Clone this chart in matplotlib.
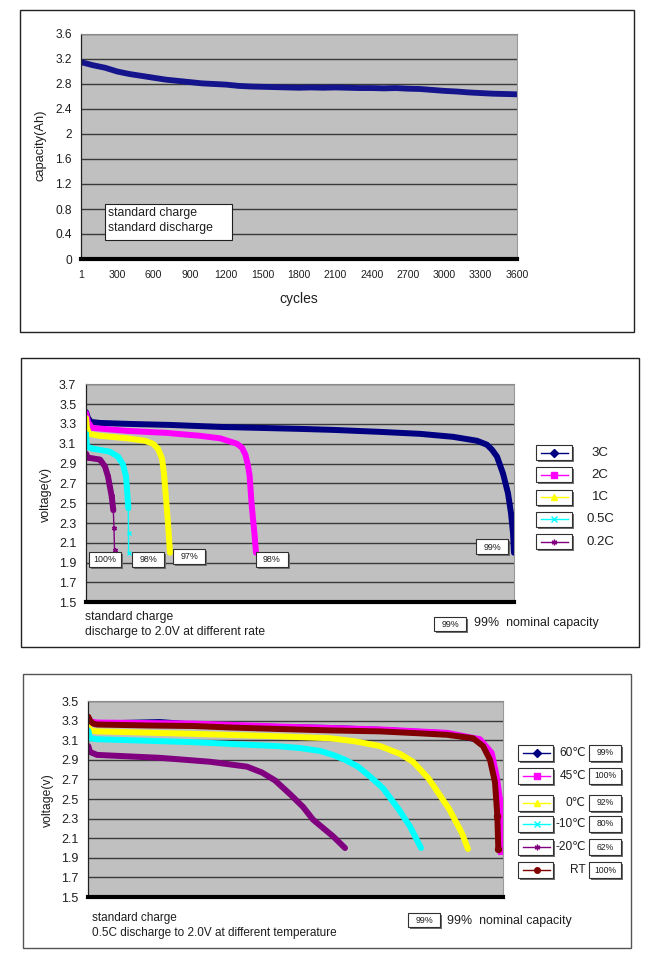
import matplotlib
matplotlib.use('Agg')
import numpy as np
import matplotlib.pyplot as plt
from matplotlib.patches import Rectangle

# ---------------- data ----------------
# panel 1: cycle life
cycles = [1, 100, 200, 300, 400, 500, 600, 700, 800, 900, 1000, 1100, 1200, 1300,
          1400, 1500, 1600, 1700, 1800, 1900, 2000, 2100, 2200, 2300, 2400, 2500,
          2600, 2700, 2800, 2900, 3000, 3100, 3200, 3300, 3400, 3500, 3600]
capacity = [3.15, 3.10, 3.06, 3.00, 2.96, 2.93, 2.90, 2.87, 2.85, 2.83, 2.81, 2.80,
            2.79, 2.77, 2.76, 2.755, 2.75, 2.745, 2.74, 2.745, 2.74, 2.745, 2.74,
            2.735, 2.735, 2.73, 2.735, 2.725, 2.72, 2.705, 2.69, 2.68, 2.665, 2.655,
            2.645, 2.64, 2.635]
cap_yticks = [0, 0.4, 0.8, 1.2, 1.6, 2.0, 2.4, 2.8, 3.2, 3.6]
cap_ylabels = ['0', '0.4', '0.8', '1.2', '1.6', '2', '2.4', '2.8', '3.2', '3.6']
cyc_xticks = [1, 300, 600, 900, 1200, 1500, 1800, 2100, 2400, 2700, 3000, 3300, 3600]

# panel 2: discharge at different rates (x = % of plot span)
rate_names = ['3C', '2C', '1C', '0.5C', '0.2C']
rate_pct = ['99%', '98%', '97%', '98%', '100%']
x_3c = [0, 0.47, 1.17, 3.27, 10.28, 19.63, 31.31, 40.65, 50.0, 57.71, 68.69, 78.04,
        85.75, 91.36, 93.69, 94.86, 96.03, 97.43, 98.6, 99.3, 99.77, 100]
v_3c = [3.42, 3.36, 3.32, 3.31, 3.30, 3.29, 3.27, 3.26, 3.25, 3.24, 3.22, 3.20,
        3.17, 3.13, 3.09, 3.04, 2.97, 2.80, 2.60, 2.40, 2.20, 2.00]
x_2c = [0, 0.47, 1.4, 9.58, 18.69, 26.64, 31.31, 35.28, 36.45, 37.24, 37.85, 38.22,
        38.71, 39.39, 39.72]
v_2c = [3.41, 3.32, 3.26, 3.23, 3.21, 3.18, 3.155, 3.10, 3.06, 2.99, 2.88, 2.78,
        2.48, 2.18, 2.00]
x_1c = [0, 0.23, 0.7, 3.27, 9.58, 13.79, 15.65, 16.82, 17.76, 18.22, 18.69, 19.16, 19.63]
v_1c = [3.36, 3.26, 3.20, 3.18, 3.155, 3.13, 3.10, 3.05, 2.95, 2.80, 2.55, 2.30, 2.00]
x_05c = [0, 0.23, 1.64, 5.61, 7.48, 8.64, 9.35, 9.65, 9.88, 9.93, 9.95]
v_05c = [3.20, 3.07, 3.05, 3.02, 2.97, 2.89, 2.77, 2.60, 2.45, 2.20, 2.00]
x_02c = [0, 0.47, 3.27, 4.44, 5.14, 6.0, 6.38, 6.54, 6.66]
v_02c = [3.00, 2.96, 2.94, 2.87, 2.77, 2.57, 2.43, 2.25, 2.03]
rate_yticks = [1.5, 1.7, 1.9, 2.1, 2.3, 2.5, 2.7, 2.9, 3.1, 3.3, 3.5, 3.7]

# panel 3: 0.5C discharge at different temperatures
temp_names = ['60\u2103', '45\u2103', '0\u2103', '-10\u2103', '-20\u2103', 'RT']
temp_pct = ['99%', '100%', '92%', '80%', '62%', '100%']
x_60 = [0, 0.65, 2.10, 17.29, 25.26, 45.5, 58.28, 70.34, 86.5, 94.45, 96.87, 98.07,
        98.79, 99.04, 99.16]
v_60 = [3.33, 3.28, 3.27, 3.285, 3.26, 3.235, 3.225, 3.205, 3.17, 3.10, 2.95, 2.75,
        2.45, 2.15, 2.00]
x_45 = [0, 0.65, 2.10, 25.26, 45.5, 70.34, 86.5, 94.45, 97.28, 98.48, 99.28, 99.45, 99.52]
v_45 = [3.33, 3.29, 3.28, 3.27, 3.24, 3.21, 3.175, 3.11, 2.97, 2.73, 2.49, 2.20, 1.97]
x_0 = [0, 0.41, 2.10, 25.26, 45.5, 58.28, 64.07, 70.34, 75.17, 78.3, 82.04, 86.98,
       90.11, 91.56]
v_0 = [3.27, 3.20, 3.19, 3.165, 3.14, 3.12, 3.09, 3.04, 2.96, 2.88, 2.71, 2.40, 2.15, 1.99]
x_m10 = [0, 0.41, 2.10, 25.26, 45.5, 51.05, 55.87, 59.0, 61.9, 65.03, 67.93, 71.06,
         74.92, 77.57, 80.23]
v_m10 = [3.20, 3.12, 3.11, 3.08, 3.04, 3.02, 2.99, 2.95, 2.90, 2.83, 2.73, 2.61, 2.39,
         2.22, 2.00]
x_m20 = [0, 0.41, 2.10, 17.29, 29.35, 38.27, 41.89, 45.02, 48.63, 51.77, 54.18, 59.0, 61.9]
v_m20 = [3.04, 2.98, 2.95, 2.92, 2.88, 2.83, 2.77, 2.69, 2.55, 2.42, 2.29, 2.12, 2.00]
x_rt = [0, 0.41, 1.13, 2.10, 14.88, 25.26, 34.17, 45.5, 58.28, 70.34, 79.99, 86.5,
        92.77, 95.18, 96.87, 98.07, 98.63, 98.87]
v_rt = [3.34, 3.30, 3.27, 3.26, 3.25, 3.245, 3.23, 3.215, 3.20, 3.19, 3.17, 3.155,
        3.12, 3.04, 2.90, 2.67, 2.33, 1.99]
temp_yticks = [1.5, 1.7, 1.9, 2.1, 2.3, 2.5, 2.7, 2.9, 3.1, 3.3, 3.5]

# ---------------- style ----------------
plt.rcParams['font.family'] = ['Liberation Sans', 'DejaVu Sans']

NAVY, MAG, YEL, CYA, PUR, DRED = '#000080', '#ff00ff', '#ffff00', '#00ffff', '#800080', '#800000'
GRID = '#3a3a3a'
BG = '#c0c0c0'
TXT = '#1e1e1e'

W, H = 649, 972
fig = plt.figure(figsize=(6.49, 9.72), dpi=100)


def add_ax(l, t, r, b):
    return fig.add_axes([l / W, 1 - b / H, (r - l) / W, (b - t) / H])


def style(ax, yticks, ylabels, pad, size):
    ax.set_facecolor(BG)
    ax.set_ylim(yticks[0], yticks[-1])
    ax.set_yticks(yticks)
    ax.set_yticklabels(ylabels, fontsize=size, color=TXT)
    ax.yaxis.grid(True, color=GRID, lw=1.0)
    ax.set_axisbelow(True)
    ax.tick_params(axis='y', length=0, pad=pad)
    ax.spines['left'].set_color('#202020')
    ax.spines['left'].set_linewidth(0.9)
    ax.spines['bottom'].set_color('black')
    ax.spines['bottom'].set_linewidth(3.0)
    ax.spines['top'].set_color('#8a8a8a')
    ax.spines['top'].set_linewidth(0.8)
    ax.spines['right'].set_color('#9a9a9a')
    ax.spines['right'].set_linewidth(0.8)


# ---------- panel 1 ----------
ax1 = add_ax(81, 34, 517, 259)
style(ax1, cap_yticks, cap_ylabels, 6.5, 8.6)
ax1.set_xlim(cycles[0], cycles[-1])
ax1.set_xticks(cyc_xticks)
ax1.set_xticklabels([str(c) for c in cyc_xticks], fontsize=7.6, color=TXT)
ax1.tick_params(axis='x', length=0, pad=8.0)
ax1.plot(cycles, capacity, color='#14148c', lw=4.2, solid_capstyle='round',
         solid_joinstyle='round')

# ---------- panel 2 ----------
ax2 = add_ax(86, 384.3, 514, 602.3)
style(ax2, rate_yticks, ['%.1f' % v for v in rate_yticks], 7, 9.0)
ax2.set_xlim(0, 100)
ax2.set_xticks([])
rate_series = [(x_3c, v_3c, NAVY, 'D'), (x_2c, v_2c, MAG, 's'), (x_1c, v_1c, YEL, '^'),
               (x_05c, v_05c, CYA, 'x'), (x_02c, v_02c, PUR, (6, 2, 0))]
for xs, vs, col, mk in rate_series:
    xs = np.asarray(xs)
    vs = np.asarray(vs)
    if col in (CYA, PUR):
        ax2.plot(xs, vs, color=col, lw=1.0, marker=mk, ms=3.5, mew=1.0)
        keep = vs >= 2.4
        ax2.plot(xs[keep], vs[keep], color=col, lw=4.3, solid_capstyle='round',
                 solid_joinstyle='round')
    else:
        ax2.plot(xs, vs, color=col, lw=4.3, solid_capstyle='round', solid_joinstyle='round')

# ---------- panel 3 ----------
ax3 = add_ax(88.3, 701, 503, 897)
style(ax3, temp_yticks, ['%.1f' % v for v in temp_yticks], 7, 9.0)
ax3.set_xlim(0, 100)
ax3.set_xticks([])
temp_series = [(x_60, v_60, NAVY, 'D'), (x_45, v_45, MAG, 's'), (x_0, v_0, YEL, '^'),
               (x_m10, v_m10, CYA, 'x'), (x_m20, v_m20, PUR, (6, 2, 0)),
               (x_rt, v_rt, DRED, 'o')]
for xs, vs, col, mk in temp_series:
    xs = np.asarray(xs)
    vs = np.asarray(vs)
    ax3.plot(xs, vs, color=col, lw=4.3, solid_capstyle='round', solid_joinstyle='round')
    if col in (NAVY, MAG, DRED):
        tail = vs < 2.5
        ax3.plot(xs[tail], vs[tail], color=col, lw=0, marker=mk, ms=4.5, mew=0.8)

# ---------- overlay (frames, legends, notes) ----------
ov = fig.add_axes([0, 0, 1, 1], zorder=10)
ov.set_xlim(0, W)
ov.set_ylim(H, 0)
ov.axis('off')
ov.patch.set_alpha(0)


def frame(l, t, r, b, color='#222222', lw=1.0):
    ov.add_patch(Rectangle((l, t), r - l, b - t, fill=False, ec=color, lw=lw))


def sbox(l, t, r, b, shadow=True, ec='#303030'):
    if shadow:
        ov.add_patch(Rectangle((l + 2, t + 2), r - l, b - t, fc='#707070', ec='none'))
    ov.add_patch(Rectangle((l, t), r - l, b - t, fc='white', ec=ec, lw=0.8))


frame(19.5, 10, 633.5, 332.3)
frame(20.8, 358.3, 638.5, 646.7)
frame(22.9, 674, 631, 948.3, color='#555555')

# panel 1 texts
ov.text(40.8, 145, 'capacity(Ah)', rotation=90, ha='center', va='center', fontsize=9.3,
        color=TXT)
ov.text(299, 299, 'cycles', ha='center', va='center', fontsize=10, color=TXT)
sbox(105, 204.3, 231.7, 240, shadow=False, ec='#202020')
ov.text(108.3, 212.7, 'standard charge', ha='left', va='center', fontsize=8.8, color=TXT)
ov.text(108.3, 228.3, 'standard discharge', ha='left', va='center', fontsize=8.8, color=TXT)

# panel 2 texts
ov.text(45.8, 494, 'voltage(v)', rotation=90, ha='center', va='center', fontsize=9,
        color=TXT)
pct_boxes2 = [(476, 539.3), (256, 551.7), (173.3, 549), (132.3, 551.7), (89.3, 551.7)]
for (l, t), lab in zip(pct_boxes2, rate_pct):
    sbox(l, t, l + 32, t + 15)
    ov.text(l + 16, t + 7.8, lab, ha='center', va='center', fontsize=6.4, color=TXT)
leg2_y = [452.5, 474.5, 497, 519, 541.5]
for yc, lab, (xs, vs, col, mk) in zip(leg2_y, rate_names, rate_series):
    sbox(535.7, yc - 7.5, 572.3, yc + 7.5)
    ov.plot([540.5, 568], [yc, yc], color=col, lw=1.0)
    ov.plot([554], [yc], color=col, marker=mk, ms=4, mew=1.0, lw=0)
    ov.text(600, yc, lab, ha='center', va='center', fontsize=9.5, color=TXT)
ov.text(85.3, 616.7, 'standard charge', ha='left', va='center', fontsize=8.7, color=TXT)
ov.text(85.3, 632.3, 'discharge to 2.0V at different rate', ha='left', va='center',
        fontsize=8.7, color=TXT)
sbox(434, 617, 466, 631)
ov.text(450, 624.3, '99%', ha='center', va='center', fontsize=6.4, color=TXT)
ov.text(474, 623, '99%  nominal capacity', ha='left', va='center', fontsize=8.9, color=TXT)

# panel 3 texts
ov.text(47.8, 800, 'voltage(v)', rotation=90, ha='center', va='center', fontsize=8.7,
        color=TXT)
leg3_y = [752.5, 775.5, 802.5, 823.5, 847, 870]
for yc, lab, pct, (xs, vs, col, mk) in zip(leg3_y, temp_names, temp_pct, temp_series):
    sbox(517.7, yc - 8, 553.3, yc + 8)
    ov.plot([523.3, 550], [yc, yc], color=col, lw=1.0)
    ov.plot([536.7], [yc], color=col, marker=mk, ms=4, mew=1.0, lw=0)
    ov.text(586, yc, lab, ha='right', va='center', fontsize=8.6, color=TXT)
    sbox(589.3, yc - 8, 620.7, yc + 8)
    ov.text(605, yc + 0.3, pct, ha='center', va='center', fontsize=6.2, color=TXT)
ov.text(91.5, 917.7, 'standard charge', ha='left', va='center', fontsize=8.5, color=TXT)
ov.text(91.5, 933.3, '0.5C discharge to 2.0V at different temperature', ha='left',
        va='center', fontsize=8.5, color=TXT)
sbox(408, 913, 440, 927)
ov.text(424, 920.3, '99%', ha='center', va='center', fontsize=6.4, color=TXT)
ov.text(447, 921, '99%  nominal capacity', ha='left', va='center', fontsize=8.9, color=TXT)

fig.savefig('out.png', dpi=100)
